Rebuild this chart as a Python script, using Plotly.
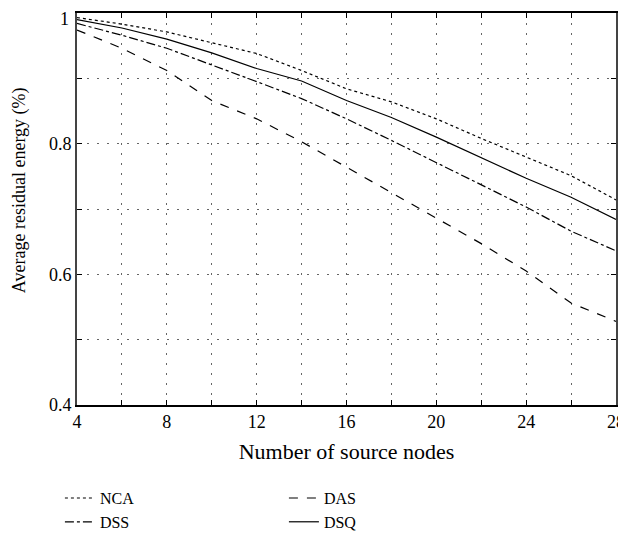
import plotly.graph_objects as go

nodes = [4, 6, 8, 10, 12, 14, 16, 18, 20, 22, 24, 26, 28]
nca = [0.993, 0.983, 0.971, 0.955, 0.938, 0.912, 0.884, 0.864, 0.838, 0.808, 0.780, 0.751, 0.714]
das = [0.974, 0.946, 0.912, 0.866, 0.838, 0.803, 0.764, 0.725, 0.685, 0.647, 0.605, 0.556, 0.528]
dss = [0.984, 0.966, 0.946, 0.921, 0.895, 0.869, 0.838, 0.805, 0.771, 0.738, 0.703, 0.666, 0.636]
dsq = [0.990, 0.977, 0.960, 0.939, 0.915, 0.896, 0.866, 0.840, 0.810, 0.779, 0.747, 0.718, 0.684]

x_ticks = list(range(4, 29, 2))
x_labels = [str(v) if (v - 4) % 4 == 0 else "" for v in x_ticks]
y_ticks = [0.4, 0.5, 0.6, 0.7, 0.8, 0.9, 1.0]
y_labels = ["0.4", "", "0.6", "", "0.8", "", "1"]

series = [("NCA", nca, "dot"), ("DAS", das, "dash"), ("DSS", dss, "dashdot"), ("DSQ", dsq, "solid")]

fig = go.Figure()
for name, vals, dash in series:
    fig.add_trace(go.Scatter(x=nodes, y=vals, mode="lines", name=name,
                             line=dict(color="black", width=1.2, dash=dash)))

family = "Liberation Serif, Times New Roman, serif"
font = dict(family=family, size=18, color="black")
fig.update_layout(
    width=618, height=528,
    margin=dict(l=69, r=10, t=5, b=131, autoexpand=False),
    paper_bgcolor="white", plot_bgcolor="white",
    font=font,
    showlegend=True,
    legend=dict(orientation="h", xref="container", yref="container",
                x=0.084, y=0.104, xanchor="left", yanchor="top",
                entrywidth=179, entrywidthmode="pixels",
                font=dict(family=family, size=16, color="black"),
                tracegroupgap=0, itemwidth=30, bgcolor="rgba(0,0,0,0)"),
)
fig.add_annotation(text="Average residual energy (%)", textangle=-90,
                   xref="paper", yref="paper", x=(11 - 69) / 539, y=0.548,
                   xanchor="center", yanchor="middle", showarrow=False,
                   font=dict(family=family, size=18, color="black"))
# top y tick label drawn as annotation so it is not clipped at the page edge
fig.add_annotation(text=y_labels[-1], xref="paper", yref="y", x=0, y=y_ticks[-1],
                   xanchor="right", yanchor="top", xshift=-6, yshift=6,
                   showarrow=False, font=font)
grid = dict(showgrid=True, gridcolor="#666", griddash="2px,8px", gridwidth=1)
fig.update_xaxes(range=[4, 28], tickvals=x_ticks, ticktext=x_labels,
                 ticks="inside", ticklen=5, tickcolor="black",
                 showline=True, linecolor="black", linewidth=1.5, mirror="ticks",
                 zeroline=False, automargin=False, ticklabeloverflow="allow", **grid,
                 title=dict(text="Number of source nodes", standoff=12))
fig.update_yaxes(range=[0.4, 1.0], tickvals=y_ticks, ticktext=y_labels[:-1] + [""],
                 ticks="inside", ticklen=5, tickcolor="black",
                 showline=True, linecolor="#444", linewidth=2, mirror="ticks",
                 zeroline=False, automargin=False, ticklabeloverflow="allow", **grid)

fig.write_html("out.html")
